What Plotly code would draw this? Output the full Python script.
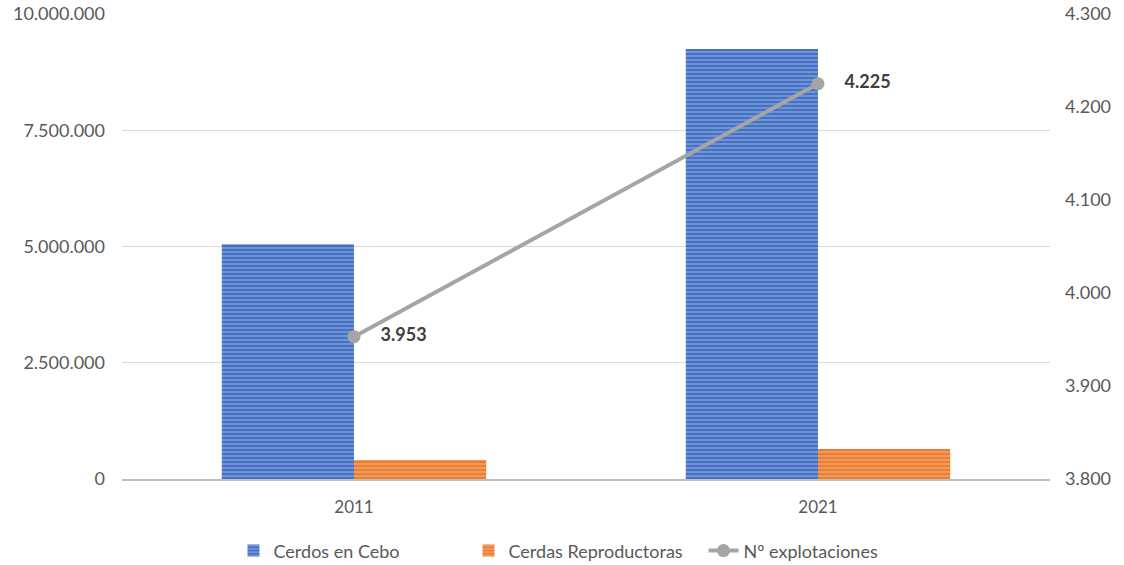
import plotly.graph_objects as go

years = ["2011", "2021"]
cerdos_cebo = [5050000, 9250000]
cerdas_reproductoras = [410000, 645000]
n_explotaciones = [3953, 4225]

blue = "#4472C4"
orange = "#ED7D31"
grey = "#A5A5A5"
font_family = "Lato, 'Open Sans', sans-serif"

fig = go.Figure()

fig.add_trace(go.Bar(
    x=years, y=cerdos_cebo, name="Cerdos en Cebo",
    marker=dict(color=blue, line=dict(width=0),
                pattern=dict(shape="-", size=4, solidity=0.4,
                             fgcolor="#B4C7EA", bgcolor=blue)),
    offsetgroup="a", width=0.285,
))
fig.add_trace(go.Bar(
    x=years, y=cerdas_reproductoras, name="Cerdas Reproductoras",
    marker=dict(color=orange, line=dict(width=0),
                pattern=dict(shape="-", size=4, solidity=0.4,
                             fgcolor="#F8C6A2", bgcolor=orange)),
    offsetgroup="b", width=0.285,
))
fig.add_trace(go.Scatter(
    x=years, y=n_explotaciones, name="Nº explotaciones", yaxis="y2",
    mode="lines+markers+text",
    line=dict(color=grey, width=4),
    marker=dict(color=grey, size=13),
    text=["    " + f"{v:,}".replace(",", ".") for v in n_explotaciones],
    textposition="middle right",
    textfont=dict(family=font_family, size=18, color="#404040", weight="bold"),
    cliponaxis=False,
))

fig.update_layout(
    width=1124, height=565,
    margin=dict(l=122, r=74, t=14, b=86, autoexpand=False),
    paper_bgcolor="white", plot_bgcolor="white",
    separators=",.",
    barmode="group", bargap=0.43, bargroupgap=0,
    font=dict(family=font_family, size=18, color="#595959"),
    xaxis=dict(showgrid=False, showline=True, linecolor="#BFBFBF", linewidth=2,
               ticks="", ticklabelstandoff=12, automargin=False,
               tickfont=dict(size=17, color="#595959")),
    yaxis=dict(range=[0, 10000000], tickvals=[0, 2500000, 5000000, 7500000, 10000000],
               tickformat=",d", showgrid=True, gridcolor="#D9D9D9", gridwidth=1,
               zeroline=False, showline=False, ticks="", ticklabelstandoff=16,
               automargin=False, tickfont=dict(size=18, color="#595959")),
    yaxis2=dict(range=[3800, 4300], tickvals=[3800, 3900, 4000, 4100, 4200, 4300],
                tickformat=",d", overlaying="y", side="right", showgrid=False,
                zeroline=False, showline=False, ticks="", ticklabelstandoff=14,
                automargin=False, tickfont=dict(size=18, color="#595959")),
    legend=dict(orientation="h", x=0.5, xanchor="center",
                yref="container", y=0.025, yanchor="middle",
                entrywidth=190, entrywidthmode="pixels",
                font=dict(size=18, color="#595959"), traceorder="normal"),
    showlegend=True,
)

fig.write_html("out.html")
